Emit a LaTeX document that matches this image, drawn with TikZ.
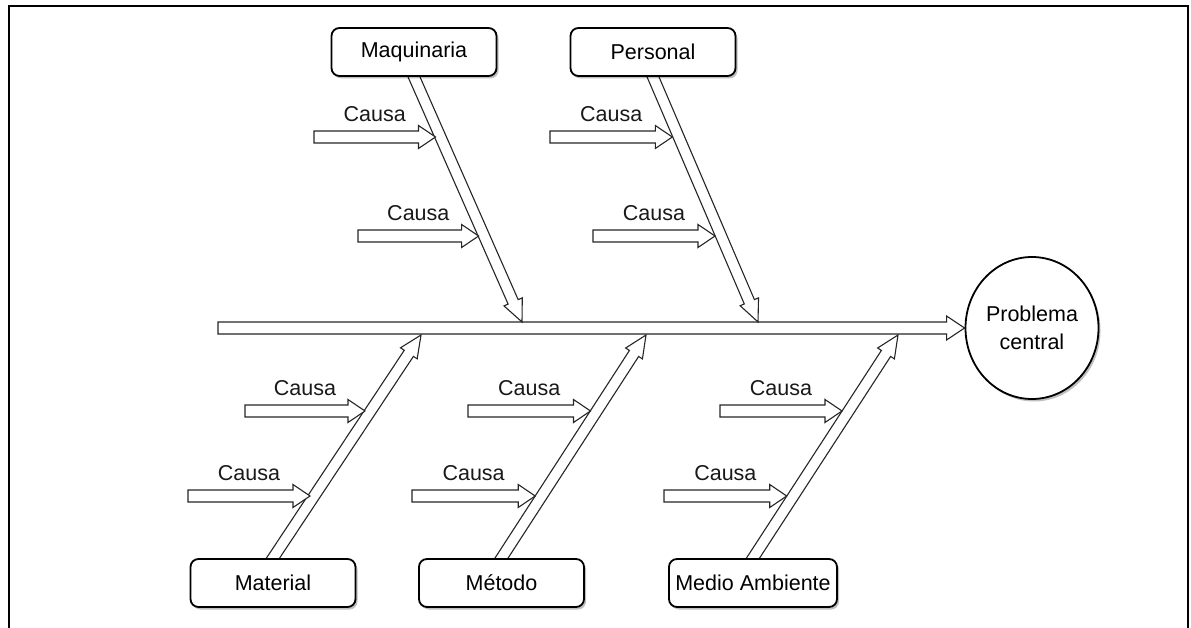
\documentclass[tikz,border=0pt]{standalone}
\usepackage{fontspec}
\setmainfont{Liberation Sans}
\usetikzlibrary{calc,shapes.geometric,shadows,backgrounds}

% Hollow block arrow from #1 to #2:
% #3 shaft half-width, #4 head half-width, #5 head length
\newcommand\hollowarrow[5]{%
  \coordinate (ha-base) at ($(#2)!#5!(#1)$);
  \draw[arrowline]
    ($(#1)!#3!90:(#2)$) -- ($(ha-base)!#3!-90:(#1)$)
    -- ($(ha-base)!#4!-90:(#1)$) -- (#2)
    -- ($(ha-base)!#4!90:(#1)$) -- ($(ha-base)!#3!90:(#1)$)
    -- ($(#1)!#3!-90:(#2)$) -- cycle;
}

% One "Causa" arrow with its label: #1 name, #2 start, #3 tip on the bone
\newcommand\causearrow[3]{%
  \coordinate (#1-s) at #2;
  \coordinate (#1-t) at #3;
  \hollowarrow{#1-s}{#1-t}{6pt}{11.5pt}{17pt}
  \node[causelabel] (#1-lbl) at ($(#1-s)!0.5!(#1-t)+(0,-22.5)$) {Causa};
}

\begin{document}
\begin{tikzpicture}[x=1pt,y=-1pt,
  font=\fontsize{21.5}{28.5}\selectfont,
  category/.style={draw=black, line width=1.8pt, rounded corners=8pt,
    fill=white, minimum width=165pt, minimum height=48pt, inner sep=0pt,
    drop shadow={shadow xshift=2pt, shadow yshift=-2.5pt, fill=black, opacity=0.25}},
  effect/.style={ellipse, draw=black, line width=1.8pt, fill=white,
    minimum width=133pt, minimum height=142pt, inner sep=0pt, align=center,
    drop shadow={shadow xshift=2pt, shadow yshift=-2.5pt, fill=black, opacity=0.25}},
  arrowline/.style={draw=black!85, line width=1.1pt, fill=white, line join=miter},
  causelabel/.style={inner sep=0pt, text=black!90},
  frame/.style={draw=black, line width=2pt}
]
\useasboundingbox (0,0) rectangle (1191,628);

% open frame
\draw[frame] (9,628) -- (9,6) -- (1188,6) -- (1188,628);

% categories and effect
\node[category] (maq) at (414,52) {Maquinaria};
\node[category] (per) at (653,52) {Personal};
\node[category] (mat) at (273,583) {Material};
\node[category] (met) at (501.5,583) {Método};
\node[category, minimum width=168pt] (med) at (753,583) {Medio Ambiente};
\node[effect] (prob) at (1032,328) {Problema\\central};

% spine and bone end points
\coordinate (spine-tail) at (218,328);
\coordinate (maq-tip) at (522,322);
\coordinate (per-tip) at (758,322);
\coordinate (mat-tip) at (421,335);
\coordinate (met-tip) at (646,335);
\coordinate (med-tip) at (898,335);

\coordinate (maq-root) at ($(maq.south)!-4pt!(maq-tip)$);
\coordinate (per-root) at ($(per.south)!-4pt!(per-tip)$);
\coordinate (mat-root) at ($(mat.north)!-4pt!(mat-tip)$);
\coordinate (met-root) at ($(met.north)!-4pt!(met-tip)$);
\coordinate (med-root) at ($(med.north)!-4pt!(med-tip)$);

\begin{pgfonlayer}{background}
  % spine
  \hollowarrow{spine-tail}{prob.west}{6pt}{12pt}{18pt}
  % bones
  \hollowarrow{maq-root}{maq-tip}{5.5pt}{10pt}{22pt}
  \hollowarrow{per-root}{per-tip}{5.5pt}{10pt}{22pt}
  \hollowarrow{mat-root}{mat-tip}{5.5pt}{10pt}{22pt}
  \hollowarrow{met-root}{met-tip}{5.5pt}{10pt}{22pt}
  \hollowarrow{med-root}{med-tip}{5.5pt}{10pt}{22pt}
\end{pgfonlayer}

% causes
\causearrow{maq-c1}{(314,137)}{(435.5,137)}
\causearrow{maq-c2}{(358,236)}{(478.6,236)}
\causearrow{per-c1}{(550,137)}{(672.3,137)}
\causearrow{per-c2}{(593,236)}{(715,236)}
\causearrow{mat-c1}{(245,411)}{(365,411)}
\causearrow{mat-c2}{(188,496)}{(310,496)}
\causearrow{met-c1}{(468,411)}{(590.5,411)}
\causearrow{met-c2}{(412,496)}{(535.2,496)}
\causearrow{med-c1}{(720,411)}{(842,411)}
\causearrow{med-c2}{(664,496)}{(786.7,496)}
\end{tikzpicture}
\end{document}
